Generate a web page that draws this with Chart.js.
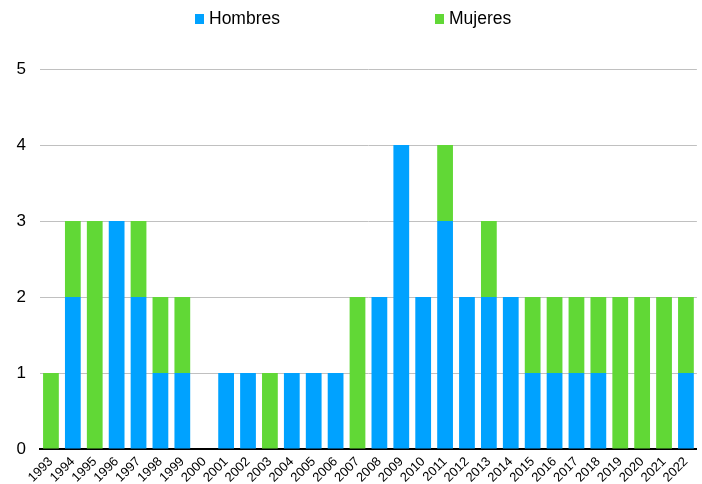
<!DOCTYPE html>
<html>
<head>
<meta charset="utf-8">
<script src="https://cdn.jsdelivr.net/npm/chart.js@4"></script>
<style>
  body { margin: 0; background: #fff; }
  #wrap { position: relative; width: 702px; height: 484px; }
  #legend { position: absolute; top: 0; left: 0; width: 702px; height: 40px; font-family: "Liberation Sans", Arial, sans-serif; }
  .item { position: absolute; top: 7px; font-size: 17.5px; line-height: 22px; color: #000; }
  .item span.box { position: absolute; left: -14px; top: 7px; width: 9px; height: 10px; }
</style>
</head>
<body>
<div id="wrap">
  <canvas id="chart" width="702" height="484"></canvas>
  <div id="legend"></div>
</div>
<script>
const years = ["1993","1994","1995","1996","1997","1998","1999","2000","2001","2002",
  "2003","2004","2005","2006","2007","2008","2009","2010","2011","2012",
  "2013","2014","2015","2016","2017","2018","2019","2020","2021","2022"];
const hombres = [0,2,0,3,2,1,1,0,1,1, 0,1,1,1,0,2,4,2,3,2, 2,2,1,1,1,1,0,0,0,1];
const mujeres = [1,1,3,0,1,1,1,0,0,0, 1,0,0,0,2,0,0,0,1,0, 1,0,1,1,1,1,2,2,2,1];
const yTicks = [0,1,2,3,4,5];

const seriesNames = ["Hombres", "Mujeres"];
const colors = ["#00a2ff", "#61d836"];
const legendX = [209, 449];

// legend as html
const legend = document.getElementById("legend");
seriesNames.forEach((name, i) => {
  const d = document.createElement("div");
  d.className = "item";
  d.style.left = legendX[i] + "px";
  d.innerHTML = `<span class="box" style="background:${colors[i]}"></span>${name}`;
  legend.appendChild(d);
});

new Chart(document.getElementById("chart"), {
  type: "bar",
  data: {
    labels: years,
    datasets: [
      { label: seriesNames[0], data: hombres, backgroundColor: colors[0] },
      { label: seriesNames[1], data: mujeres, backgroundColor: colors[1] },
    ],
  },
  options: {
    responsive: false,
    animation: false,
    layout: { padding: { top: 69, right: 2, left: 0, bottom: 0 } },
    datasets: { bar: { barPercentage: 0.72, categoryPercentage: 1 } },
    plugins: { legend: { display: false }, tooltip: { enabled: false } },
    scales: {
      x: {
        stacked: true,
        grid: { display: false, drawTicks: false },
        border: { color: "#000", width: 2 },
        ticks: {
          color: "#000",
          font: { family: "Liberation Sans", size: 13 },
          minRotation: 45,
          maxRotation: 45,
          autoSkip: false,
          padding: 5,
        },
        afterFit: (s) => { s.height = 35; },
      },
      y: {
        stacked: true,
        min: 0,
        max: 5,
        grid: { color: "#c0c0c0", lineWidth: 1, drawTicks: false },
        border: { display: false },
        afterBuildTicks: (s) => { s.ticks = yTicks.map((v) => ({ value: v })); },
        ticks: {
          color: "#000",
          font: { family: "Liberation Sans", size: 17 },
          padding: 14,
        },
        afterFit: (s) => { s.width = 40; },
      },
    },
  },
});
</script>
</body>
</html>
